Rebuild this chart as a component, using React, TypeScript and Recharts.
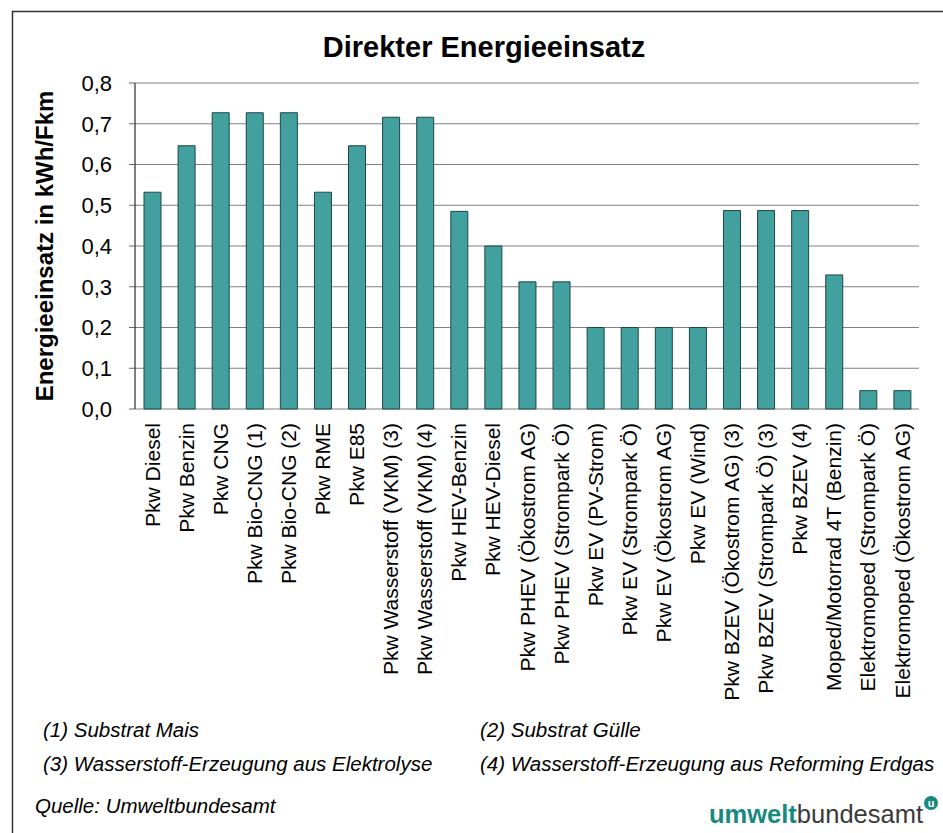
import React from "react";
import { BarChart, Bar, XAxis, YAxis, CartesianGrid, Label } from "recharts";

const CATEGORIES = [
  "Pkw Diesel",
  "Pkw Benzin",
  "Pkw CNG",
  "Pkw Bio-CNG (1)",
  "Pkw Bio-CNG (2)",
  "Pkw RME",
  "Pkw E85",
  "Pkw Wasserstoff (VKM) (3)",
  "Pkw Wasserstoff (VKM) (4)",
  "Pkw HEV-Benzin",
  "Pkw HEV-Diesel",
  "Pkw PHEV (Ökostrom AG)",
  "Pkw PHEV (Strompark Ö)",
  "Pkw EV (PV-Strom)",
  "Pkw EV (Strompark Ö)",
  "Pkw EV (Ökostrom AG)",
  "Pkw EV (Wind)",
  "Pkw BZEV (Ökostrom AG) (3)",
  "Pkw BZEV (Strompark Ö) (3)",
  "Pkw BZEV (4)",
  "Moped/Motorrad 4T (Benzin)",
  "Elektromoped (Strompark Ö)",
  "Elektromoped (Ökostrom AG)",
];

const VALUES = [
  0.532, 0.646, 0.727, 0.727, 0.727, 0.532, 0.646, 0.716, 0.716, 0.485,
  0.4, 0.312, 0.312, 0.2, 0.2, 0.2, 0.2, 0.487, 0.487, 0.487, 0.329,
  0.045, 0.045,
];

const Y_TICKS = [0, 0.1, 0.2, 0.3, 0.4, 0.5, 0.6, 0.7, 0.8];

const TITLE = "Direkter Energieeinsatz";
const Y_LABEL = "Energieeinsatz in kWh/Fkm";
const NOTES = [
  "(1) Substrat Mais",
  "(2) Substrat Gülle",
  "(3) Wasserstoff-Erzeugung aus Elektrolyse",
  "(4) Wasserstoff-Erzeugung aus Reforming Erdgas",
];
const SOURCE = "Quelle: Umweltbundesamt";

const FONT = "'Liberation Sans', Arial, sans-serif";
const BAR_FILL = "#42a09e";
const BAR_STROKE = "#1d4745";
const LOGO_TEAL = "#168a7f";

const data = CATEGORIES.map((name, i) => ({ name, value: VALUES[i] }));
// boundaries between categories, used for the tick marks on the x axis
const EDGE_TICKS = Array.from({ length: CATEGORIES.length + 1 }, (_, i) => i);

const fmt = (v: number) => v.toFixed(1).replace(".", ",");

function CategoryTick({ x, y, payload }: any) {
  return (
    <text
      x={x}
      y={y}
      dx={-14}
      dy="0.36em"
      transform={`rotate(-90, ${x}, ${y})`}
      textAnchor="end"
      fontSize={21}
      fontFamily={FONT}
      fill="#000"
    >
      {payload.value}
    </text>
  );
}

export default function App() {
  return (
    <div style={{ position: "absolute", left: 0, top: 0, width: 943, height: 833, background: "#fff", overflow: "hidden" }}>
      <svg width={943} height={833} style={{ position: "absolute", left: 0, top: 0 }}>
        <rect x={12.5} y={11.5} width={980} height={900} fill="none" stroke="#333" strokeWidth={1.5} />
        <text x={484} y={57} textAnchor="middle" fontSize={29} fontWeight="bold" fontFamily={FONT}>
          {TITLE}
        </text>
        <g fontSize={20.5} fontStyle="italic" fontFamily={FONT} fill="#000">
          <text x={43} y={737}>{NOTES[0]}</text>
          <text x={480} y={737}>{NOTES[1]}</text>
          <text x={43} y={771}>{NOTES[2]}</text>
          <text x={480} y={771}>{NOTES[3]}</text>
          <text x={35} y={813}>{SOURCE}</text>
        </g>
        {/* logo */}
        <text x={709} y={823} fontSize={25.5} fontFamily={FONT}>
          <tspan fontWeight="bold" fill={LOGO_TEAL}>umwelt</tspan>
          <tspan fill="#3a3a3a">bundesamt</tspan>
        </text>
        <circle cx={931} cy={803} r={7} fill={LOGO_TEAL} />
        <text x={931} y={807} textAnchor="middle" fontSize={11} fontWeight="bold" fontFamily={FONT} fill="#fff">
          u
        </text>
      </svg>

      <BarChart
        width={943}
        height={720}
        data={data}
        margin={{ top: 83, right: 24, bottom: 0, left: 0 }}
        style={{ position: "absolute", left: 0, top: 0 }}
      >
        <CartesianGrid vertical={false} stroke="#808080" xAxisId="cat" />
        <XAxis
          xAxisId="edges"
          type="number"
          domain={[0, CATEGORIES.length]}
          ticks={EDGE_TICKS}
          allowDataOverflow
          height={0}
          tickSize={6}
          tickFormatter={() => ""}
          tickLine={{ stroke: "#666" }}
          axisLine={{ stroke: "#000" }}
        />
        <XAxis
          xAxisId="cat"
          dataKey="name"
          interval={0}
          height={311}
          tickLine={false}
          axisLine={false}
          tickSize={0}
          tickMargin={0}
          tick={<CategoryTick />}
        />
        <XAxis
          xAxisId="top"
          orientation="top"
          type="number"
          domain={[0, 1]}
          height={0}
          tick={false}
          tickLine={false}
          axisLine={{ stroke: "#333", strokeWidth: 1.5 }}
        />
        <YAxis
          domain={[0, 0.8]}
          ticks={Y_TICKS}
          width={135}
          tickFormatter={fmt}
          tick={{ fill: "#000", fontSize: 22, fontFamily: FONT }}
          tickSize={6}
          tickMargin={17}
          tickLine={{ stroke: "#666" }}
          axisLine={{ stroke: "#000" }}
        >
          <Label
            content={({ viewBox }: any) => {
              const cy = viewBox.y + viewBox.height / 2;
              return (
                <text
                  x={45}
                  y={cy}
                  dy="0.35em"
                  transform={`rotate(-90, 45, ${cy})`}
                  textAnchor="middle"
                  fontSize={24}
                  fontWeight="bold"
                  fontFamily={FONT}
                  fill="#000"
                >
                  {Y_LABEL}
                </text>
              );
            }}
          />
        </YAxis>
        <YAxis
          yAxisId="right"
          orientation="right"
          domain={[0, 1]}
          width={0}
          tick={false}
          tickLine={false}
          axisLine={{ stroke: "#444", strokeWidth: 1.5 }}
        />
        <Bar
          xAxisId="cat"
          dataKey="value"
          fill={BAR_FILL}
          stroke={BAR_STROKE}
          strokeWidth={1}
          barSize={17}
          isAnimationActive={false}
        />
      </BarChart>
    </div>
  );
}
